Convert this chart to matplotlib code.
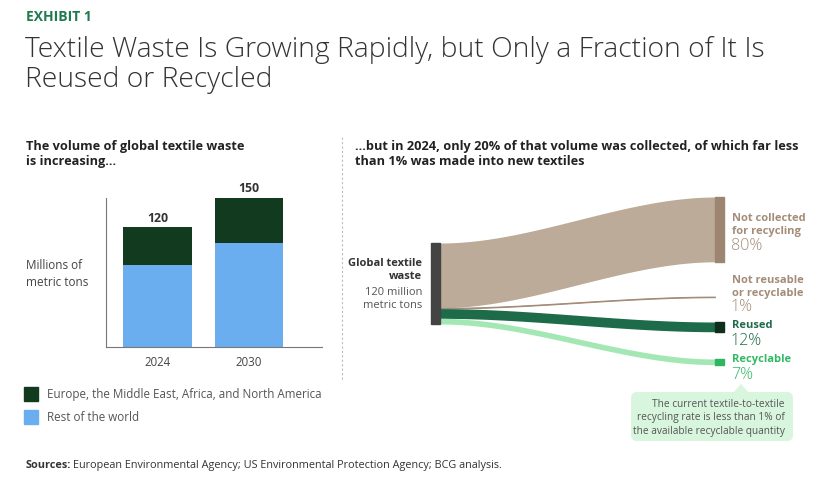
import numpy as np
import matplotlib.pyplot as plt
from matplotlib.patches import FancyBboxPatch, Polygon, Rectangle

plt.rcParams['font.family'] = ['Open Sans', 'DejaVu Sans']

# left chart data (million metric tons)
years = ['2024', '2030']
rest_of_world = [82, 104]
emea_na = [38, 46]
totals = [120, 150]

# right chart data (share of 2024 waste, %)
flow_names = ['Not collected\nfor recycling', 'Not reusable\nor recyclable', 'Reused', 'Recyclable']
flow_shares = [80, 1, 12, 7]
flow_colors = ['#bcab98', '#a38d78', '#1d6b48', '#a3e8b4']
node_colors = ['#9c8671', '#a38d78', '#0f2f1c', '#2fb45f']
label_colors = ['#a38d78', '#a38d78', '#1d6b48', '#33b864']

W, H = 820, 481
fig = plt.figure(figsize=(W / 100, H / 100), dpi=100)

# full-figure overlay in pixel coordinates
ov = fig.add_axes([0, 0, 1, 1])
ov.set_xlim(0, W)
ov.set_ylim(H, 0)
ov.axis('off')

ov.text(26, 17, 'EXHIBIT 1', color='#1f7a4f', fontsize=10, fontweight='bold', va='center')
ov.text(25, 65, 'Textile Waste Is Growing Rapidly, but Only a Fraction of It Is\nReused or Recycled',
        color='#333333', fontsize=20.3, fontweight='light', va='center', linespacing=1.13)

ov.text(26, 154, 'The volume of global textile waste\nis increasing…', fontsize=9.2,
        fontweight='bold', color='#222222', va='center', linespacing=1.2)
ov.text(355, 154, '…but in 2024, only 20% of that volume was collected, of which far less\nthan 1% was made into new textiles',
        fontsize=9.2, fontweight='bold', color='#222222', va='center', linespacing=1.2)

ov.text(26, 274, 'Millions of\nmetric tons', fontsize=8.5, color='#444444', va='center', linespacing=1.35)

# separator
ov.plot([342, 342], [138, 382], color='#bbbbbb', lw=0.8, ls=(0, (2, 2)))

# legend
ov.add_patch(Rectangle((24, 388), 14, 14, color='#123a1e'))
ov.add_patch(Rectangle((24, 411), 14, 14, color='#6aaef0'))
ov.text(47, 395, 'Europe, the Middle East, Africa, and North America', fontsize=8.4, color='#555555', va='center')
ov.text(47, 418, 'Rest of the world', fontsize=8.4, color='#555555', va='center')

ov.text(26, 466, 'Sources:', fontsize=7.8, color='#333333', va='center', fontweight='bold')
ov.text(73, 466, 'European Environmental Agency; US Environmental Protection Agency; BCG analysis.',
        fontsize=7.8, color='#333333', va='center')

# bar chart
ax = fig.add_axes([106 / W, 1 - 348 / H, 216 / W, 149 / H])
xpos = np.arange(len(years))
ax.bar(xpos, rest_of_world, width=0.75, color='#6aaef0')
ax.bar(xpos, emea_na, bottom=rest_of_world, width=0.75, color='#123a1e')
for xi, t in zip(xpos, totals):
    ax.text(xi, t + 3, str(t), ha='center', va='bottom', fontsize=8.8, fontweight='bold', color='#333333')
ax.set_xlim(-0.563, 1.8)
ax.set_ylim(0, 149)
ax.set_xticks(xpos)
ax.set_xticklabels(years, fontsize=8.3, color='#444444')
ax.tick_params(length=0, pad=6)
ax.set_yticks([])
for s in ['top', 'right']:
    ax.spines[s].set_visible(False)
for s in ['left', 'bottom']:
    ax.spines[s].set_color('#777777')
    ax.spines[s].set_linewidth(0.8)
ax.patch.set_alpha(0)

# sankey
src_x0, src_x1 = 431, 440
tgt_x0, tgt_x1 = 715, 724
src_top = 244
px_per_pct = 0.81
tgt_tops = [198, 297.5, 323, 360]

total_h = sum(flow_shares) * px_per_pct
ov.add_patch(Rectangle((src_x0, src_top), src_x1 - src_x0, total_h, color='#444444', zorder=3))

xs = np.linspace(src_x1, tgt_x0, 200)
t = (xs - src_x1) / (tgt_x0 - src_x1)
s = 3 * t ** 2 - 2 * t ** 3
y_src = src_top
for share, ttop, fc, nc in zip(flow_shares, tgt_tops, flow_colors, node_colors):
    h = share * px_per_pct
    top = y_src + (ttop - y_src) * s
    ov.fill_between(xs, top, top + h, color=fc, lw=0.6 if share < 3 else 0, edgecolor=fc, zorder=2)
    if share >= 3:
        ov.add_patch(Rectangle((tgt_x0, ttop), tgt_x1 - tgt_x0, h, color=nc, zorder=3))
    y_src += h

# source labels
ov.text(422, 270, 'Global textile\nwaste', fontsize=8, fontweight='bold', color='#333333',
        ha='right', va='center', linespacing=1.25)
ov.text(422, 299, '120 million\nmetric tons', fontsize=8, color='#555555',
        ha='right', va='center', linespacing=1.3)

# target labels
name_y = [225, 287, 326, 360]
pct_y = [246, 307, 341, 375]
for name, share, ny, py, lc in zip(flow_names, flow_shares, name_y, pct_y, label_colors):
    ov.text(732, ny, name, fontsize=8, fontweight='bold', color=lc, va='center', linespacing=1.2)
    ov.text(731, py, f'{share}%', fontsize=11.5, fontweight='light', color=lc, va='center')

# callout
ov.add_patch(FancyBboxPatch((631, 393), 162, 49, boxstyle='round,pad=0,rounding_size=6',
                            fc='#d8f5de', ec='none', zorder=1))
ov.add_patch(Polygon([[733, 394], [741, 385], [749, 394]], closed=True, fc='#d8f5de', ec='none'))
ov.text(785, 418, 'The current textile-to-textile\nrecycling rate is less than 1% of\nthe available recyclable quantity',
        fontsize=7.3, color='#555555', ha='right', va='center', linespacing=1.3)

fig.savefig('out.png', dpi=100)
